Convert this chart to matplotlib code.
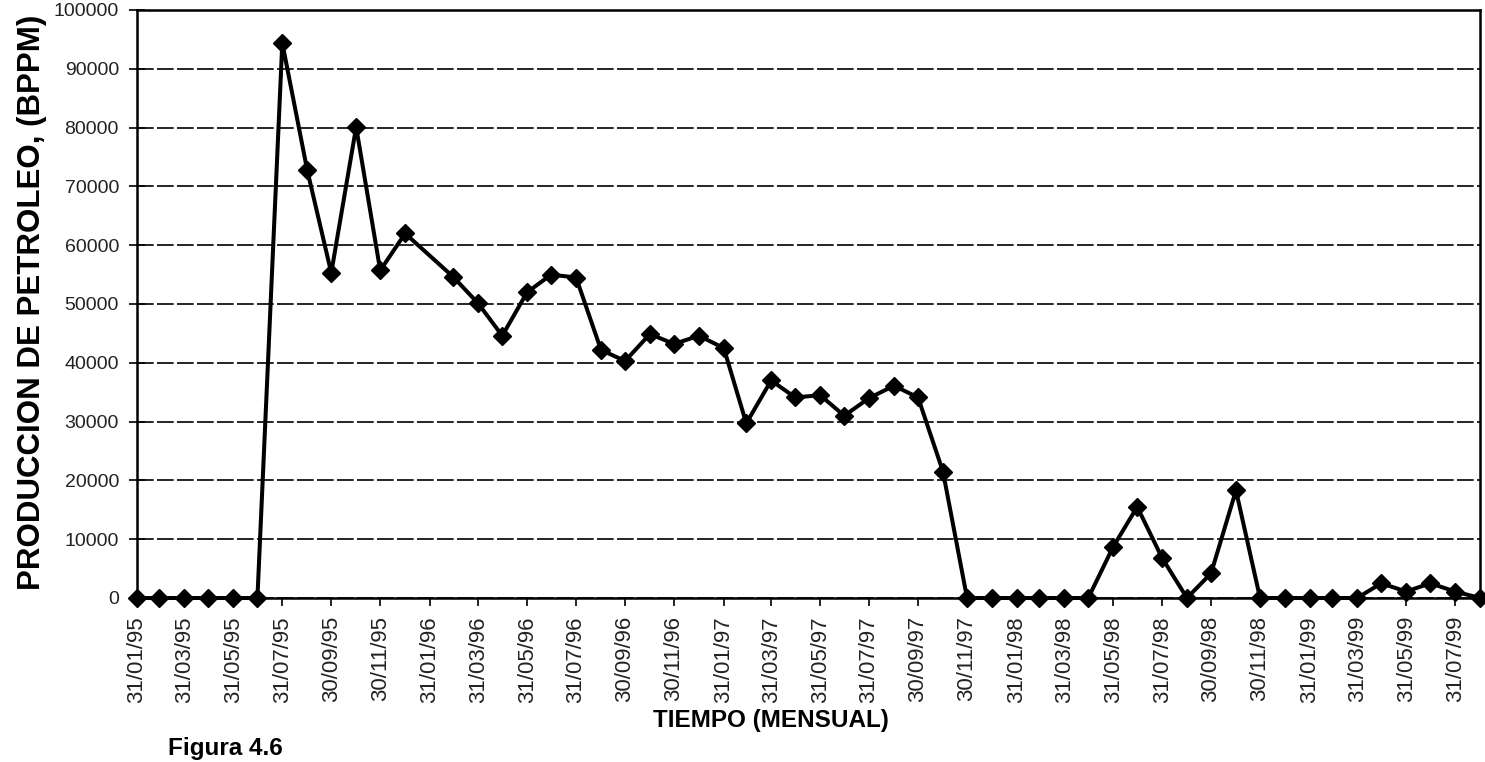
import numpy as np
import pandas as pd
import matplotlib
matplotlib.use("Agg")
import matplotlib.pyplot as plt
import matplotlib.dates as mdates
from matplotlib.ticker import FuncFormatter

# monthly oil production (BPPM), Jan-95 .. Aug-99; Jan-96 has no point
start_month = "1995-01-31"
prod_1995 = [0, 0, 0, 0, 0, 0, 94400, 72800, 55300, 80100, 55700, 62000]
prod_1996 = [None, 54600, 50100, 44600, 52000, 55000, 54500, 42200, 40300, 44900, 43200, 44600]
prod_1997 = [42500, 29700, 37000, 34100, 34500, 31000, 34000, 36100, 34100, 21500, 0, 0]
prod_1998 = [0, 0, 0, 0, 8700, 15500, 6800, 0, 4200, 18300, 0, 0]
prod_1999 = [0, 0, 0, 2500, 1100, 2500, 1100, 0]

y_ticks = [0, 10000, 20000, 30000, 40000, 50000, 60000, 70000, 80000, 90000, 100000]

values = prod_1995 + prod_1996 + prod_1997 + prod_1998 + prod_1999
months = pd.date_range(start=start_month, periods=len(values), freq="ME")
serie = pd.Series(values, index=months, dtype=float).dropna()

plt.rcParams["font.family"] = ["Liberation Sans", "DejaVu Sans"]

fig = plt.figure(figsize=(14.85, 7.62), dpi=100)
ax = fig.add_axes([137 / 1485, 1 - 598 / 762, (1480 - 137) / 1485, (598 - 10) / 762])

ax.plot(serie.index, serie.values, color="black", lw=2.9, marker="D", ms=9.5,
        mec="black", mfc="black", clip_on=False, zorder=3)

# axes limits / ticks
ax.set_xlim(months[0], months[-1])
ax.set_ylim(y_ticks[0], y_ticks[-1])
ax.set_yticks(y_ticks)
ax.yaxis.set_major_formatter(FuncFormatter(lambda v, p: f"{int(v)}"))
ax.set_xticks(months[::2])
ax.xaxis.set_major_formatter(mdates.DateFormatter("%d/%m/%y"))
ax.tick_params(axis="x", direction="out", length=6, width=1.2, pad=7,
               labelsize=16, labelrotation=90, labelcolor="#222222")
ax.tick_params(axis="y", direction="inout", length=12, width=1.2, pad=7,
               labelsize=14, labelcolor="#222222")

ax.grid(axis="y", color="black", lw=1.2, linestyle=(0, (10, 2)))
ax.set_axisbelow(True)
for s in ax.spines.values():
    s.set_linewidth(1.8)
    s.set_color("black")

fig.text(32 / 1485, 1 - 302 / 762, "PRODUCCION DE PETROLEO, (BPPM)", rotation=90,
         ha="center", va="center", fontsize=22.5, fontweight="bold")
fig.text(771 / 1485, 1 - 720 / 762, "TIEMPO (MENSUAL)", ha="center", va="center",
         fontsize=17.5, fontweight="bold")
fig.text(168 / 1485, 2 / 762, "Figura 4.6", ha="left", va="bottom",
         fontsize=17.5, fontweight="bold")

fig.savefig("out.png", dpi=100)
